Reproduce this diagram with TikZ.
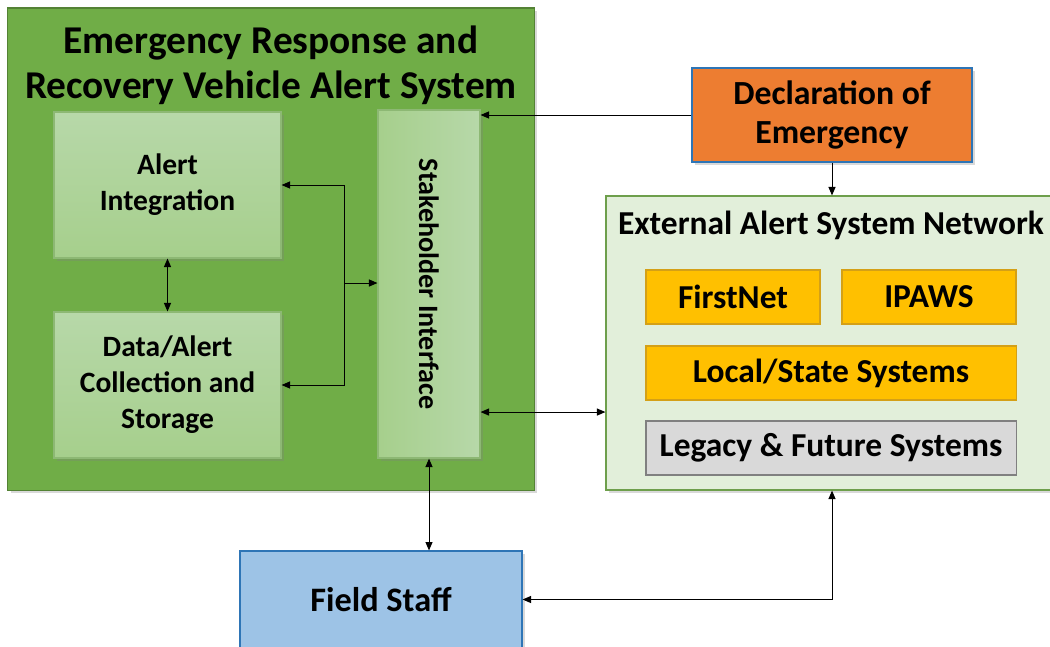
\documentclass[tikz,border=0pt]{standalone}
\usepackage{fontspec}
\setmainfont{Carlito}
\usetikzlibrary{arrows.meta,positioning,shadows,calc}
\definecolor{ergreen}{HTML}{70AD47}
\definecolor{ergreenedge}{HTML}{548235}
\definecolor{boxtop}{HTML}{B7D8A9}
\definecolor{boxbot}{HTML}{A6CF8C}
\definecolor{boxedge}{HTML}{8DB874}
\definecolor{extfill}{HTML}{E2EFDA}
\definecolor{extedge}{HTML}{6E9F4C}
\definecolor{decorange}{HTML}{ED7D31}
\definecolor{blueedge}{HTML}{2E75B6}
\definecolor{fieldblue}{HTML}{9DC3E6}
\definecolor{sysyellow}{HTML}{FFC000}
\definecolor{sysyellowedge}{HTML}{D4A017}
\definecolor{sysgray}{HTML}{D9D9D9}
\definecolor{sysgrayedge}{HTML}{808080}

\begin{document}
\begin{tikzpicture}[
    x=0.025cm, y=-0.025cm,
    box/.style={rectangle, draw, line width=0.8pt, align=center, text=black},
    shade/.style={drop shadow={shadow xshift=2pt, shadow yshift=-2pt, opacity=0.3}},
    inbox/.style={box, shade, draw=boxedge, top color=boxtop, bottom color=boxbot,
                  minimum width=5.675cm, minimum height=3.65cm,
                  font=\fontsize{21}{25.6}\selectfont\bfseries},
    sysbox/.style={box, minimum height=1.35cm,
                   font=\fontsize{23.8}{28}\selectfont\bfseries},
    arr/.style={-{Triangle[length=6pt, width=5pt]}, line width=0.7pt},
    dblarr/.style={{Triangle[length=6pt, width=5pt]}-{Triangle[length=6pt, width=5pt]},
                   line width=0.7pt}
  ]
  \useasboundingbox (0,0) rectangle (1050,646);

  % ---- Alert system (big green box) ----
  \node[box, shade, fill=ergreen, draw=ergreenedge, minimum width=13.15cm,
        minimum height=12.05cm] (ERS) at (271,249) {};
  \node[font=\fontsize{28}{32}\selectfont\bfseries, align=center]
    (title) at (271,65) {Emergency Response and\\Recovery Vehicle Alert System};

  % Alert Integration
  \node[inbox] (AI) at (167.5,185) {Alert\\Integration};

  % Data/Alert Collection and Storage
  \node[inbox] (DA) at (167.5,385) {Data/Alert\\Collection and\\Storage};

  % Stakeholder Interface (vertical)
  \node[box, shade, draw=boxedge, left color=boxbot, right color=boxtop,
        minimum width=2.55cm, minimum height=8.7cm] (SI) at (429,284) {};
  \node[rotate=-90, font=\fontsize{20}{24}\selectfont\bfseries]
    (SIlabel) at (SI.center) {Stakeholder Interface};

  % ---- Declaration of Emergency ----
  \node[box, shade, fill=decorange, draw=blueedge, minimum width=7.0cm,
        minimum height=2.35cm, font=\fontsize{24}{27.7}\selectfont\bfseries]
    (DE) at (832,115) {Declaration of\\Emergency};

  % ---- External Alert System Network ----
  \node[box, shade, fill=extfill, draw=extedge, minimum width=11.3cm,
        minimum height=7.35cm] (EX) at (832,343) {};
  \node[font=\fontsize{23.8}{28}\selectfont\bfseries]
    (EXtitle) at (831,225) {External Alert System Network};

  \node[sysbox, fill=sysyellow, draw=sysyellowedge, minimum width=4.35cm]
    (FN) at (733,297) {FirstNet};
  \node[sysbox, fill=sysyellow, draw=sysyellowedge, minimum width=4.35cm]
    (IP) at (929,297) {IPAWS};
  \node[sysbox, fill=sysyellow, draw=sysyellowedge, minimum width=9.25cm]
    (LS) at (831,373) {Local/State Systems};
  \node[sysbox, fill=sysgray, draw=sysgrayedge, minimum width=9.25cm]
    (LG) at (831,448) {Legacy \& Future Systems};

  % ---- Field Staff ----
  \node[box, shade, fill=fieldblue, draw=blueedge, minimum width=7.05cm,
        minimum height=2.425cm, font=\fontsize{24.4}{28}\selectfont\bfseries]
    (FS) at (381,599.5) {Field Staff};

  % ============ ARROWS ============
  \coordinate (fork) at (344,283);
  \draw[arr] (fork) |- (AI.east);
  \draw[arr] (fork) |- (DA.east);
  \draw[arr] (fork) -- (fork -| SI.west);
  \draw[dblarr] (AI.south) -- (DA.north);

  \draw[arr] (DE.west) -- (DE.west -| SI.east);
  \draw[arr] (DE.south) -- (DE.south |- EX.north);

  \draw[dblarr] ([yshift=-3.2cm]SI.east) -- ([yshift=-3.2cm]SI.east -| EX.west);
  \draw[dblarr] (SI.south) -- (SI.south |- FS.north);
  \draw[dblarr] (FS.east) -| (EX.south);

\end{tikzpicture}
\end{document}
